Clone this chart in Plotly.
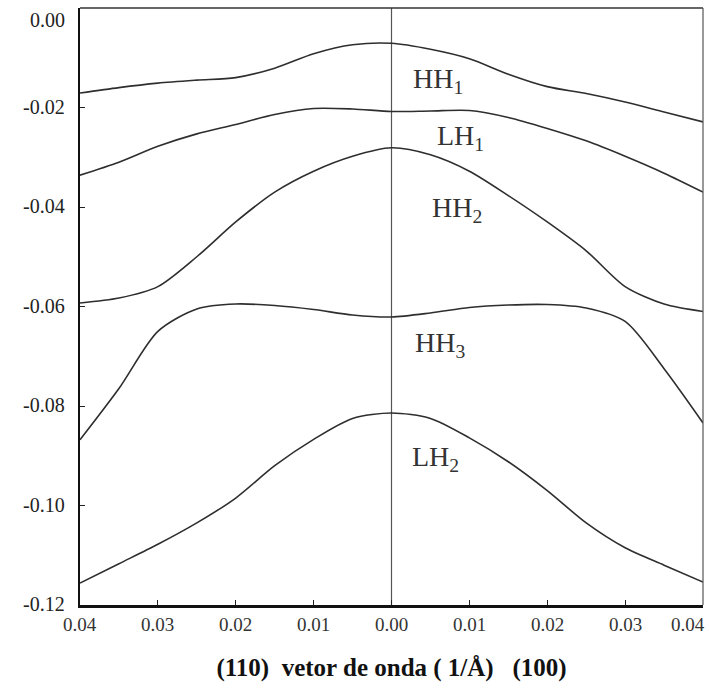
import plotly.graph_objects as go

# wave vector grid (1/Å); negative side = (110), positive side = (100)
k = [-0.04, -0.035, -0.03, -0.025, -0.02, -0.015, -0.01, -0.005, 0.0,
     0.005, 0.01, 0.015, 0.02, 0.025, 0.03, 0.035, 0.04]

hh1 = [-0.0171, -0.0160, -0.0151, -0.0145, -0.0140, -0.0121, -0.0092, -0.0074, -0.0071,
       -0.0083, -0.0102, -0.0133, -0.0158, -0.0172, -0.0189, -0.0209, -0.0229]
lh1 = [-0.0336, -0.0310, -0.0278, -0.0253, -0.0234, -0.0214, -0.0202, -0.0203, -0.0208,
       -0.0207, -0.0206, -0.0220, -0.0242, -0.0267, -0.0298, -0.0332, -0.0370]
hh2 = [-0.0593, -0.0583, -0.0560, -0.0500, -0.0430, -0.0370, -0.0328, -0.0298, -0.0281,
       -0.0295, -0.0328, -0.0377, -0.0430, -0.0488, -0.0560, -0.0595, -0.0610]
hh3 = [-0.0868, -0.0765, -0.0650, -0.0605, -0.0595, -0.0598, -0.0606, -0.0617, -0.0621,
       -0.0613, -0.0602, -0.0597, -0.0596, -0.0603, -0.0630, -0.0725, -0.0834]
lh2 = [-0.1156, -0.1117, -0.1078, -0.1035, -0.0985, -0.0920, -0.0867, -0.0825, -0.0814,
       -0.0825, -0.0864, -0.0912, -0.0970, -0.1035, -0.1085, -0.1120, -0.1154]

series_names = ["HH<sub>1</sub>", "LH<sub>1</sub>", "HH<sub>2</sub>", "HH<sub>3</sub>", "LH<sub>2</sub>"]
series_vals = [hh1, lh1, hh2, hh3, lh2]
label_x = [0.0060, 0.0088, 0.0084, 0.0062, 0.0056]
label_y = [-0.0145, -0.0261, -0.0406, -0.0677, -0.0905]

NB = "\u00a0"
x_tickvals = [-0.04, -0.03, -0.02, -0.01, 0.0, 0.01, 0.02, 0.03, 0.04]
x_ticktext = ["0.04", "0.03", "0.02", "0.01", "0.00", "0.01", "0.02", "0.03", "0.04"]
y_tickvals = [0.0, -0.02, -0.04, -0.06, -0.08, -0.10, -0.12]
y_ticktext = ["0.00", "-0.02", "-0.04", "-0.06", "-0.08", "-0.10", "-0.12"]
x_title = "(110)" + NB * 2 + "vetor de onda ( 1/Å)" + NB * 3 + "(100)"

LINE = "#2e2e2e"
fig = go.Figure()

# vertical line at k = 0
fig.add_trace(go.Scatter(x=[0.0, 0.0], y=[-0.12, 0.0], mode="lines",
                         line=dict(color="#555555", width=1.2), showlegend=False, hoverinfo="skip"))

for name, vals in zip(series_names, series_vals):
    fig.add_trace(go.Scatter(x=k, y=vals, mode="lines", name=name,
                             line=dict(color=LINE, width=1.6, shape="spline", smoothing=0.8),
                             showlegend=False))

for name, lx, ly in zip(series_names, label_x, label_y):
    fig.add_annotation(x=lx, y=ly, text=name, showarrow=False, xanchor="center", yanchor="middle",
                       font=dict(family="Liberation Serif", size=28, color="#333333"))

# tick labels (drawn as annotations so the edge labels stay inside the page)
n_x = len(x_tickvals)
for i, (tv, tt) in enumerate(zip(x_tickvals, x_ticktext)):
    fig.add_annotation(x=tv, y=0, xref="x", yref="paper", text=tt, showarrow=False,
                       xanchor="right" if i == n_x - 1 else "center", yanchor="top",
                       xshift=4 if i == n_x - 1 else 0, yshift=-7,
                       font=dict(family="Liberation Serif", size=19, color="#333333"))
for i, (tv, tt) in enumerate(zip(y_tickvals, y_ticktext)):
    fig.add_annotation(x=0, y=tv, xref="paper", yref="y", text=tt, showarrow=False,
                       xanchor="right", yanchor="top" if i == 0 else "middle",
                       xshift=-13, yshift=1 if i == 0 else 1,
                       font=dict(family="Liberation Serif", size=20, color="#222222"))

# top and right frame lines (thinner)
fig.add_shape(type="line", xref="x domain", yref="y domain", x0=0, x1=1, y0=1, y1=1,
              line=dict(color="#333333", width=1.5))
fig.add_shape(type="line", xref="x domain", yref="y domain", x0=1, x1=1, y0=0, y1=1,
              line=dict(color="#555555", width=1.2))

fig.update_layout(
    width=710, height=688,
    margin=dict(l=80, r=7, t=8, b=83, autoexpand=False),
    paper_bgcolor="white", plot_bgcolor="white",
    font=dict(family="Liberation Serif", color="#222222"),
    xaxis=dict(range=[-0.04, 0.04], tickvals=x_tickvals, showticklabels=False,
               showgrid=False, zeroline=False, showline=True, linecolor="#111111", linewidth=2.5,
               ticks="inside", ticklen=5, tickwidth=1.2, tickcolor="#222222", automargin=False,
               title=dict(text="<b>" + x_title + "</b>",
                          font=dict(family="Liberation Serif", size=25, color="#111111"),
                          standoff=52)),
    yaxis=dict(range=[-0.12, 0.0], tickvals=y_tickvals, showticklabels=False,
               showgrid=False, zeroline=False, showline=True, linecolor="#111111", linewidth=2,
               ticks="inside", ticklen=5, tickwidth=1.2, tickcolor="#222222", automargin=False),
)

fig.write_html("out.html")
